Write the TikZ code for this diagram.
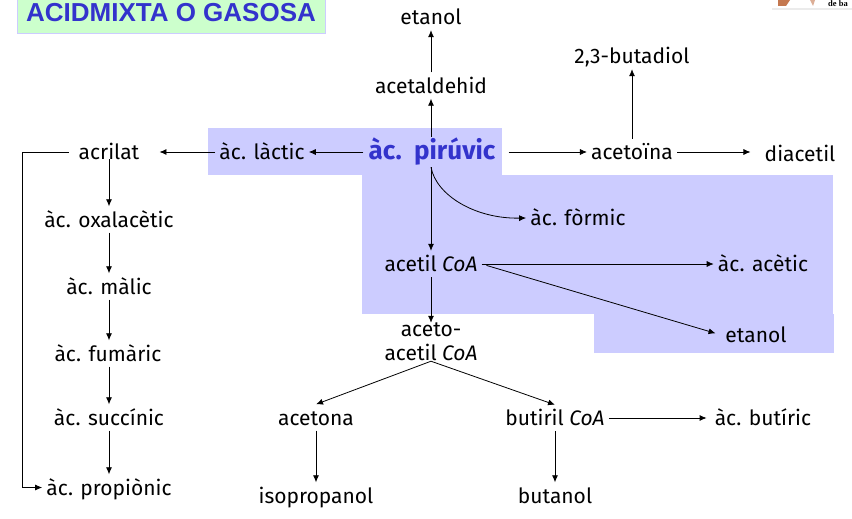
\documentclass[tikz,border=0pt]{standalone}
\usepackage{fontspec}
\setmainfont{Fira Sans}
\usetikzlibrary{arrows.meta, positioning, calc}
\definecolor{mylilac}{RGB}{204,204,255}
\definecolor{mygreen}{RGB}{204,255,204}
\definecolor{myblue}{RGB}{51,51,204}
\definecolor{mybrown}{RGB}{196,120,80}
\tikzset{
    met/.style={inner ysep=0pt,inner xsep=4pt,minimum height=26pt,font=\fontsize{21}{24}\selectfont},
    metb/.style={met,text height=15pt,text depth=0pt},
    arr/.style={-{Latex[length=7pt,width=6pt]},line width=0.8pt},
}

\begin{document}
\begin{tikzpicture}[x=1pt,y=-1pt]
    \useasboundingbox (0,0) rectangle (852,519);

    % Shaded zones
    \fill[mylilac] (208,128) rectangle (502,175);
    \fill[mylilac] (362,175) rectangle (833,314);
    \fill[mylilac] (594,314) rectangle (834,353);

    % Title
    \node[draw=mylilac,fill=mygreen,minimum width=308pt,minimum height=41pt,inner sep=0pt,
        text=myblue,font=\fontsize{26}{28}\selectfont\fontspec{Liberation Sans}\bfseries] (title) at (171,12.5) {ACIDMIXTA O GASOSA};

    % Logo corner
    \fill[black!8] (772,8.5) rectangle (852,10);
    \fill[mybrown] (778,0) -- (790,0) -- (786,6) -- (778,6) -- cycle;
    \fill[mybrown!60] (810,0) -- (815,0) -- (813,6) -- cycle;
    \node[font=\fontsize{8.5}{9}\selectfont\fontspec{Liberation Serif}\bfseries,anchor=west,inner sep=0pt] (logo) at (828,4) {de ba};

    % Central pathway
    \node[metb] (etanolA) at (431,17) {etanol};
    \node[metb] (acetald) at (431,85.5) {acetaldehid};
    \node[inner ysep=0pt,inner xsep=5pt,minimum height=30pt,text=myblue,font=\fontsize{26}{28}\selectfont\bfseries] (piruvic) at (432,152) {àc.\ \ pirúvic};
    \node[metb] (formic) at (578,218) {àc. fòrmic};
    \node[metb] (acetil) at (431,264) {acetil \textit{CoA}};
    \node[metb] (acetic) at (763,264) {àc. acètic};
    \node[metb] (etanolB) at (756,335) {etanol};
    \node[met,align=center] (acetoacetil) at (431,342) {aceto-\\acetil \textit{CoA}};

    % Right branch
    \node[metb] (butadiol) at (632,56) {2,3-butadiol};
    \node[metb] (acetoina) at (632,152) {acetoïna};
    \node[metb] (diacetil) at (800,153.5) {diacetil};

    % Left branch
    \node[metb] (lactic) at (262,152) {àc. làctic};
    \node[metb] (acrilat) at (109,152) {acrilat};
    \node[metb] (oxal) at (109,219.5) {àc. oxalacètic};
    \node[metb] (malic) at (109,286.5) {àc. màlic};
    \node[metb] (fumaric) at (108,353.5) {àc. fumàric};
    \node[metb] (succinic) at (109,417.5) {àc. succínic};
    \node[metb] (propionic) at (109,487.5) {àc. propiònic};

    % Bottom branches
    \node[metb] (acetona) at (316,417.5) {acetona};
    \node[metb] (butiril) at (555,418) {butiril \textit{CoA}};
    \node[metb] (butiric) at (763,418) {àc. butíric};
    \node[metb] (isoprop) at (316,495.5) {isopropanol};
    \node[metb] (butanol) at (555,495.5) {butanol};

    % Arrows
    \draw[arr] (piruvic.north -| acetald) -- (acetald.south);
    \draw[arr] (acetald.north) -- (etanolA.south);
    \draw[arr] (piruvic.west) -- (lactic.east);
    \draw[arr,shorten >=16pt] (lactic.west) -- (acrilat.east);
    \draw[arr,shorten <=8pt] (piruvic.east) -- (acetoina.west);
    \draw[arr,shorten >=10pt] (acetoina.east) -- (diacetil.west |- acetoina);
    \draw[arr] (acetoina.north) -- (butadiol.south);
    \draw[arr] (piruvic.south -| acetil) -- (acetil.north);
    \draw[arr] (piruvic.south -| acetil) .. controls (436,195) and (475,219) .. (formic.west);
    \draw[arr] (acetil.east) -- (acetic.west);
    \draw[arr,shorten <=5pt,shorten >=6pt] (acetil.east) -- (etanolB.west);
    \draw[arr] (acetil.south) -- (acetoacetil.north);
    \draw[arr] (acetoacetil.south) -- (acetona.north);
    \draw[arr] (acetoacetil.south) -- (butiril.north);
    \draw[arr] (acetona.south) -- (isoprop.north);
    \draw[arr] (butiril.south) -- (butanol.north);
    \draw[arr,shorten >=4pt] (butiril.east) -- (butiric.west);
    \draw[arr,shorten <=-6pt] (acrilat.south) -- (oxal.north);
    \draw[arr] (oxal.south) -- (malic.north);
    \draw[arr] (malic.south -| oxal) -- (fumaric.north -| oxal);
    \draw[arr] (fumaric.south -| oxal) -- (succinic.north);
    \draw[arr] (succinic.south) -- (propionic.north);
    \draw[arr,shorten <=6pt] (acrilat.west) -- (22,152) |- (propionic.west);
\end{tikzpicture}
\end{document}
